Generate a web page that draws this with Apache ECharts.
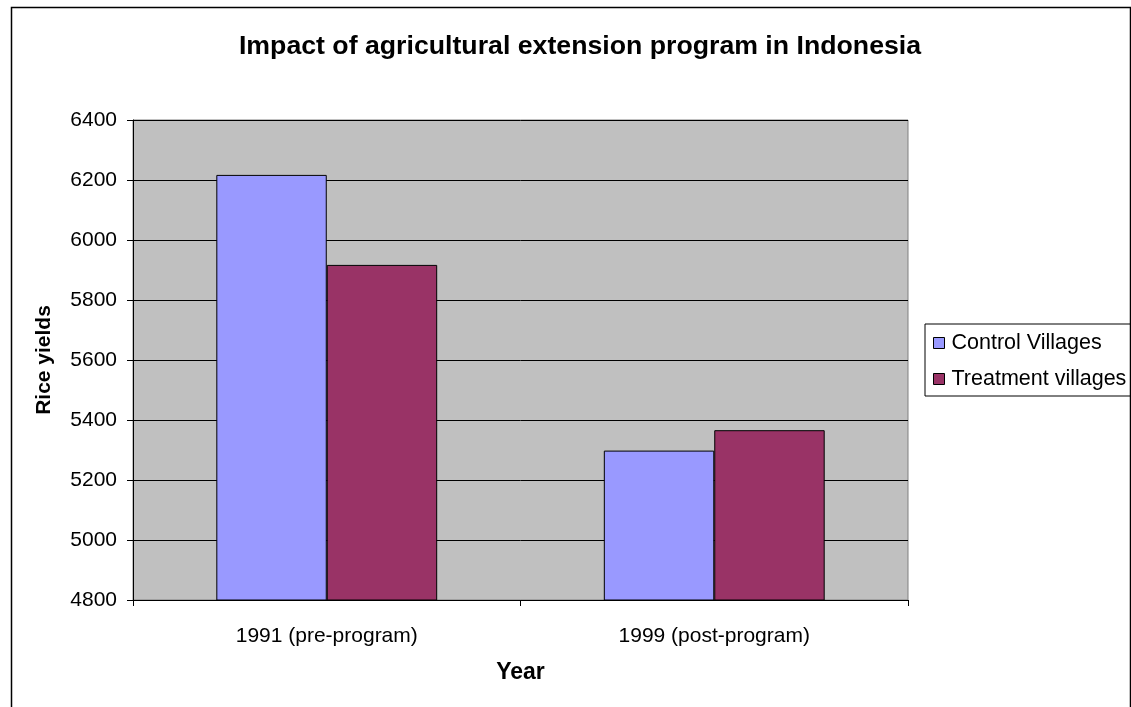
<!DOCTYPE html>
<html>
<head>
<meta charset="utf-8">
<script src="https://cdn.jsdelivr.net/npm/echarts@6/dist/echarts.min.js"></script>
<style>html,body{margin:0;padding:0;background:#fff}#c{width:1131px;height:707px}</style>
</head>
<body>
<div id="c"></div>
<script>
const categories = ['1991 (pre-program)', '1999 (post-program)'];
const controlVillages = [6217, 5298];
const treatmentVillages = [5917, 5366];
const seriesNames = ['Control Villages', 'Treatment villages'];
const yTicks = { min: 4800, max: 6400, interval: 200 };

const chart = echarts.init(document.getElementById('c'), null, { renderer: 'canvas' });
const font = '"Liberation Sans", Arial, sans-serif';
chart.setOption({
  animation: false,
  backgroundColor: '#ffffff',
  title: {
    text: 'Impact of agricultural extension program in Indonesia',
    left: 575, top: 28, textAlign: 'center',
    textStyle: { fontFamily: font, fontSize: 26.7, fontWeight: 'bold', color: '#000' }
  },
  graphic: [{
    type: 'rect', left: 9, top: 5, z: -1,
    shape: { width: 1119, height: 720 },
    style: { fill: 'none', stroke: '#000', lineWidth: 1.5 }
  }],
  legend: {
    orient: 'vertical', left: 925, top: 324,
    padding: [8, 40, 6, 8], itemGap: 14,
    borderColor: '#000', borderWidth: 1,
    itemWidth: 11, itemHeight: 11, icon: 'rect',
    itemStyle: { borderColor: '#000', borderWidth: 1 },
    textStyle: { fontFamily: font, fontSize: 21.5, color: '#000', padding: [0,0,0,2] },
    data: seriesNames
  },
  grid: { left: 133, right: 223, top: 120, bottom: 107, show: true, backgroundColor: '#C0C0C0', borderColor: '#808080', borderWidth: 1 },
  xAxis: {
    type: 'category', data: categories,
    name: 'Year', nameLocation: 'middle', nameGap: 61,
    nameTextStyle: { fontFamily: font, fontSize: 23, fontWeight: 'bold', color: '#000' },
    axisLine: { lineStyle: { color: '#000', width: 1 } },
    axisTick: { show: true, alignWithLabel: false, length: 6, lineStyle: { color: '#000' } },
    axisLabel: { fontFamily: font, fontSize: 21, color: '#000', margin: 26 }
  },
  yAxis: {
    type: 'value', min: yTicks.min, max: yTicks.max, interval: yTicks.interval,
    name: 'Rice yields', nameLocation: 'middle', nameRotate: 90, nameGap: 78,
    nameTextStyle: { fontFamily: font, fontSize: 21, fontWeight: 'bold', color: '#000' },
    axisLine: { show: true, lineStyle: { color: '#000', width: 1 } },
    axisTick: { show: true, length: 6, lineStyle: { color: '#000' } },
    axisLabel: { fontFamily: font, fontSize: 21, color: '#000', margin: 16, formatter: v => String(v) },
    splitLine: { show: true, lineStyle: { color: '#000', width: 1 } }
  },
  series: [
    { name: seriesNames[0], type: 'bar', data: controlVillages, barGap: '0%', barCategoryGap: '43%',
      itemStyle: { color: '#9999FF', borderColor: '#000', borderWidth: 1 } },
    { name: seriesNames[1], type: 'bar', data: treatmentVillages,
      itemStyle: { color: '#993366', borderColor: '#000', borderWidth: 1 } }
  ]
});
</script>
</body>
</html>
